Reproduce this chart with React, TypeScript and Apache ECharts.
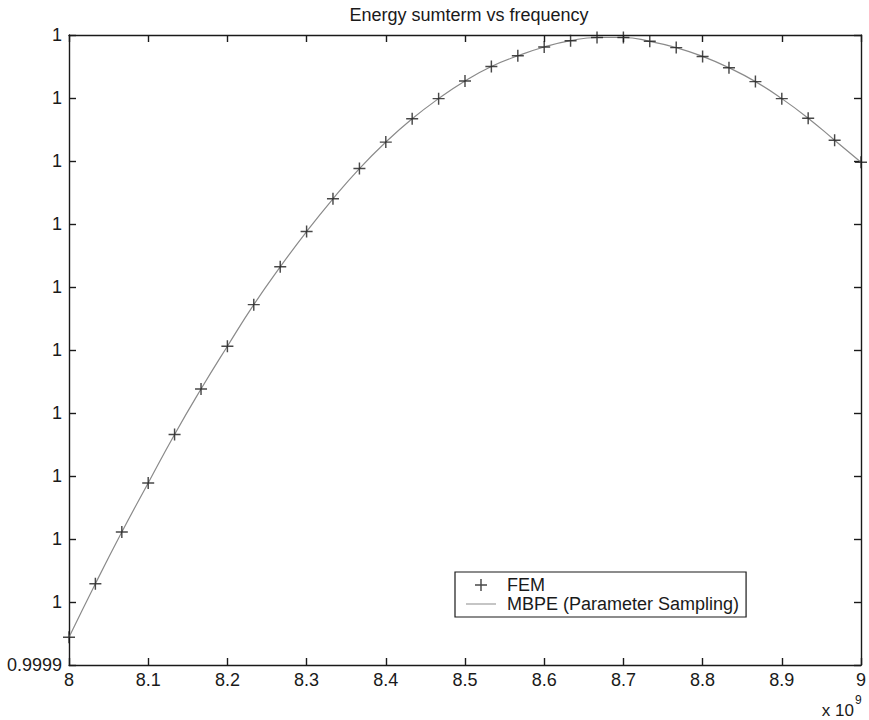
import React, { useEffect, useRef } from "react";
import * as echarts from "echarts";

const titleText = "Energy sumterm vs frequency";
const femName = "FEM";
const mbpeName = "MBPE (Parameter Sampling)";

// frequency in units of 1e9 Hz
const freqGHz = [
  8.0, 8.0333, 8.0667, 8.1, 8.1333, 8.1667, 8.2, 8.2333, 8.2667, 8.3, 8.3333,
  8.3667, 8.4, 8.4333, 8.4667, 8.5, 8.5333, 8.5667, 8.6, 8.6333, 8.6667, 8.7,
  8.7333, 8.7667, 8.8, 8.8333, 8.8667, 8.9, 8.9333, 8.9667, 9.0,
];

const femValues = [
  0.9999044, 0.9999129, 0.9999211, 0.9999289, 0.9999366, 0.9999438, 0.9999506,
  0.9999572, 0.9999632, 0.9999688, 0.999974, 0.9999788, 0.999983, 0.9999867,
  0.9999899, 0.9999927, 0.999995, 0.9999967, 0.9999981, 0.9999991, 0.9999996,
  0.9999996, 0.999999, 0.999998, 0.9999966, 0.9999948, 0.9999926, 0.9999899,
  0.9999868, 0.9999833, 0.9999798,
];

const mbpeValues = [
  0.9999044, 0.9999129, 0.9999211, 0.9999289, 0.9999366, 0.9999438, 0.9999506,
  0.9999572, 0.9999632, 0.9999688, 0.999974, 0.9999788, 0.999983, 0.9999867,
  0.9999899, 0.9999927, 0.999995, 0.9999967, 0.9999981, 0.9999991, 0.9999996,
  0.9999996, 0.999999, 0.999998, 0.9999966, 0.9999948, 0.9999926, 0.9999899,
  0.9999868, 0.9999833, 0.9999798,
];

const xTickLabels = ["8", "8.1", "8.2", "8.3", "8.4", "8.5", "8.6", "8.7", "8.8", "8.9", "9"];
const yTickLabels = ["0.9999", "1", "1", "1", "1", "1", "1", "1", "1", "1", "1"];

const X_MIN = 8;
const X_MAX = 9;
const X_STEP = 0.1;
const Y_MIN = 0.9999;
const Y_MAX = 1.0;
const Y_STEP = 0.00001;

const FONT = "'Liberation Sans', Arial, Helvetica, sans-serif";
const INK = "#1a1a1a";
const LINE_GRAY = "#8a8a8a";
const PLUS = "path://M4.4,0H5.6V4.4H10V5.6H5.6V10H4.4V5.6H0V4.4H4.4Z";
const DASH_ICON = "path://M0,0H30V1H0Z";

export default function App() {
  const ref = useRef<HTMLDivElement>(null);

  useEffect(() => {
    document.body.style.margin = "0";
    const chart = echarts.init(ref.current!, null, { renderer: "svg" });

    const axisLine = { show: true, lineStyle: { color: INK, width: 1.4 } };
    const tickIn = { show: true, inside: true, length: 7, lineStyle: { color: INK, width: 1.4 } };

    const femData = freqGHz.map((f, i) => [f, femValues[i]]);
    const mbpeData = freqGHz.map((f, i) => [f, mbpeValues[i]]);

    chart.setOption({
      animation: false,
      backgroundColor: "#ffffff",
      textStyle: { fontFamily: FONT },
      grid: { left: 69, right: 3, top: 35, bottom: 55, containLabel: false },
      xAxis: [
        {
          type: "value",
          position: "bottom",
          min: X_MIN,
          max: X_MAX,
          interval: X_STEP,
          axisLine,
          axisTick: tickIn,
          splitLine: { show: false },
          axisLabel: {
            color: INK,
            fontSize: 18,
            fontFamily: FONT,
            margin: 6,
            formatter: (_v: number, i: number) => xTickLabels[i] ?? "",
          },
        },
        {
          type: "value",
          position: "top",
          min: X_MIN,
          max: X_MAX,
          interval: X_STEP,
          axisLine,
          axisTick: tickIn,
          splitLine: { show: false },
          axisLabel: { show: false },
        },
      ],
      yAxis: [
        {
          type: "value",
          position: "left",
          min: Y_MIN,
          max: Y_MAX,
          interval: Y_STEP,
          axisLine,
          axisTick: tickIn,
          splitLine: { show: false },
          axisLabel: {
            color: INK,
            fontSize: 18,
            fontFamily: FONT,
            margin: 7,
            formatter: (_v: number, i: number) => yTickLabels[i] ?? "",
          },
        },
        {
          type: "value",
          position: "right",
          min: Y_MIN,
          max: Y_MAX,
          interval: Y_STEP,
          axisLine,
          axisTick: tickIn,
          splitLine: { show: false },
          axisLabel: { show: false },
        },
      ],
      legend: {
        orient: "vertical",
        left: 455,
        top: 572,
        data: [
          { name: femName, icon: PLUS },
          { name: mbpeName, icon: DASH_ICON },
        ],
        backgroundColor: "#ffffff",
        borderColor: INK,
        borderWidth: 1.2,
        padding: [4, 7, 4, 11],
        itemGap: 1,
        itemWidth: 30,
        itemHeight: 12,
        textStyle: { color: INK, fontSize: 18, fontFamily: FONT, padding: [0, 0, 0, 6] },
      },
      series: [
        {
          name: mbpeName,
          type: "line",
          data: mbpeData,
          smooth: true,
          symbol: "none",
          symbolKeepAspect: true,
          lineStyle: { color: LINE_GRAY, width: 1.2 },
          itemStyle: { color: LINE_GRAY },
          z: 2,
        },
        {
          name: femName,
          type: "scatter",
          data: femData,
          symbol: PLUS,
          symbolSize: 12,
          symbolKeepAspect: true,
          itemStyle: { color: INK },
          z: 3,
        },
      ],
      graphic: [
        {
          type: "text",
          x: 469,
          y: 15,
          style: {
            text: titleText,
            fill: INK,
            font: `18px ${FONT}`,
            textAlign: "center",
            textVerticalAlign: "middle",
          },
        },
        {
          type: "text",
          x: 854,
          y: 710,
          style: {
            text: "x 10",
            fill: INK,
            font: `17px ${FONT}`,
            textAlign: "right",
            textVerticalAlign: "middle",
          },
        },
        {
          type: "text",
          x: 855,
          y: 700,
          style: {
            text: "9",
            fill: INK,
            font: `12px ${FONT}`,
            textAlign: "left",
            textVerticalAlign: "middle",
          },
        },
      ],
    });

    return () => chart.dispose();
  }, []);

  return <div ref={ref} style={{ width: 869, height: 720 }} />;
}
